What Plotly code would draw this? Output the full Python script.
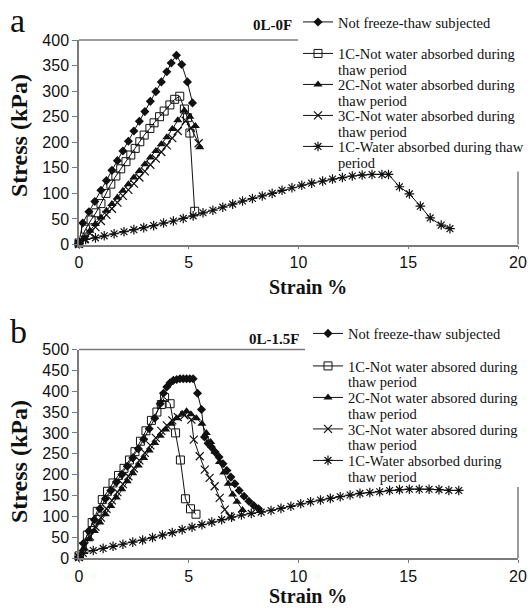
import plotly.graph_objects as go

# ---------------- data : panel a (0L-0F) ----------------
a_nf_x = [0, 0.17, 0.45, 0.72, 1.0, 1.25, 1.5, 1.75, 2.0, 2.25, 2.5, 2.75, 3.0, 3.25, 3.5, 3.75, 4.0, 4.2, 4.44, 4.68, 4.94, 5.17]
a_nf_y = [5, 42, 64, 84, 106, 125, 145, 164, 183, 202, 222, 241, 260, 280, 299, 318, 338, 355, 370, 352, 318, 277]

a_c1_x = [0, 0.3, 0.55, 0.77, 1.0, 1.23, 1.45, 1.68, 1.9, 2.14, 2.36, 2.56, 2.77, 2.97, 3.23, 3.42, 3.67, 3.88, 4.14, 4.36, 4.59, 4.8, 4.94, 5.05, 5.27]
a_c1_y = [3, 30, 48, 62, 80, 100, 118, 134, 148, 162, 175, 188, 201, 214, 227, 238, 250, 261, 273, 284, 290, 265, 248, 218, 65]

a_c2_x = [0, 0.25, 0.5, 0.75, 1.0, 1.25, 1.5, 1.75, 2.0, 2.25, 2.5, 2.75, 3.0, 3.25, 3.5, 3.75, 4.0, 4.25, 4.5, 4.8, 5.05, 5.3, 5.5]
a_c2_y = [2, 13, 27, 40, 53, 66, 79, 92, 105, 118, 131, 144, 157, 170, 183, 196, 210, 226, 243, 262, 250, 232, 190]

a_c3_x = [0, 0.25, 0.5, 0.75, 1.0, 1.25, 1.5, 1.75, 2.0, 2.25, 2.5, 2.75, 3.0, 3.25, 3.5, 3.75, 4.0, 4.25, 4.5, 4.86, 5.1, 5.45]
a_c3_y = [1, 10, 22, 34, 46, 58, 70, 82, 95, 107, 119, 131, 143, 156, 168, 181, 194, 208, 222, 242, 228, 198]

a_w1_x = [0, 0.3, 0.75, 1.15, 1.6, 2.05, 2.5, 2.95, 3.4, 3.85, 4.3, 4.75, 5.2, 5.65, 6.1, 6.55, 7.0, 7.45, 7.9, 8.35,
          8.8, 9.25, 9.7, 10.15, 10.6, 11.1, 11.55, 12.0, 12.45, 12.9, 13.35, 13.8, 14.1, 14.6, 15.05, 15.55, 16.0, 16.5, 16.9]
a_w1_y = [2, 10, 13, 17, 21, 25, 29, 33, 37, 42, 46, 51, 56, 62, 67, 73, 79, 85, 90, 95,
          100, 106, 111, 116, 120, 124, 128, 131, 134, 136, 137, 137, 137, 113, 99, 75, 52, 38, 31]

# ---------------- data : panel b (0L-1.5F) ----------------
b_nf_x = [0, 0.2, 0.45, 0.7, 0.95, 1.2, 1.45, 1.7, 1.95, 2.2, 2.45, 2.7, 2.95, 3.2, 3.45, 3.7, 3.85, 4.0, 4.15, 4.3, 4.45,
          4.6, 4.75, 4.9, 5.05, 5.2, 5.4, 5.58, 5.72, 5.88, 6.03, 6.2, 6.38, 6.56, 6.74, 6.92, 7.1, 7.3, 7.52, 7.74, 7.96, 8.18]
b_nf_y = [3, 35, 65, 92, 118, 142, 162, 182, 200, 220, 240, 262, 285, 310, 335, 370, 395, 410, 420, 426, 428,
          430, 430, 430, 430, 430, 395, 356, 290, 275, 266, 254, 242, 226, 210, 194, 178, 162, 148, 136, 126, 118]

b_c1_x = [0, 0.15, 0.38, 0.6, 0.83, 1.06, 1.3, 1.55, 1.8, 2.05, 2.3, 2.55, 2.8, 3.05, 3.3, 3.55, 3.75, 3.9, 4.15, 4.4, 4.62, 4.85, 5.08, 5.33]
b_c1_y = [5, 27, 55, 85, 112, 140, 160, 180, 198, 215, 235, 255, 280, 305, 330, 350, 368, 385, 370, 300, 235, 142, 118, 105]

b_c2_x = [0, 0.2, 0.45, 0.7, 0.95, 1.2, 1.45, 1.7, 1.95, 2.2, 2.45, 2.7, 2.95, 3.2, 3.45, 3.7, 3.95, 4.2, 4.45, 4.7, 4.9,
          5.1, 5.35, 5.6, 5.8, 6.0, 6.2, 6.4, 6.6, 6.8, 7.0, 7.2, 7.45]
b_c2_y = [2, 22, 45, 65, 85, 105, 125, 145, 165, 184, 203, 222, 240, 258, 276, 293, 308, 322, 335, 346, 352,
          345, 335, 322, 300, 278, 255, 230, 205, 178, 152, 135, 115]

b_c3_x = [0, 0.25, 0.5, 0.75, 1.0, 1.25, 1.5, 1.75, 2.0, 2.25, 2.5, 2.75, 3.0, 3.25, 3.5, 3.75, 4.0, 4.25, 4.5, 4.8,
          5.12, 5.23, 5.5, 5.73, 5.95, 6.18, 6.41, 6.64, 6.86]
b_c3_y = [2, 28, 52, 75, 97, 118, 138, 158, 177, 196, 215, 234, 252, 270, 288, 305, 318, 330, 338, 342,
          332, 284, 244, 212, 192, 172, 144, 116, 100]

b_w1_x = [0, 0.2, 0.65, 1.1, 1.55, 2.0, 2.45, 2.9, 3.35, 3.8, 4.25, 4.7, 5.15, 5.6, 6.05, 6.5, 6.95, 7.4, 7.85, 8.3,
          8.75, 9.2, 9.65, 10.1, 10.55, 11.0, 11.45, 11.9, 12.35, 12.8, 13.25, 13.7, 14.15, 14.6, 15.05, 15.5, 15.95, 16.4, 16.85, 17.3]
b_w1_y = [2, 11, 18, 23, 28, 33, 38, 43, 49, 55, 61, 68, 74, 80, 86, 92, 98, 103, 107, 110,
          114, 119, 124, 130, 135, 139, 143, 147, 151, 155, 157, 159, 162, 164, 165, 165, 165, 164, 162, 162]

# ---------------- labels ----------------
names_a = ["Not freeze-thaw subjected", "1C-Not water absorbed during", "2C-Not water absorbed during",
           "3C-Not water absorbed during", "1C-Water absorbed during thaw"]
second_a = ["", "thaw period", "thaw period", "thaw period", "period"]
names_b = ["Not freeze-thaw subjected", "1C-Not water absored during", "2C-Not water absored during",
           "3C-Not water absored during", "1C-Water absorbed during"]
second_b = ["", "thaw period", "thaw period", "thaw period", "thaw period"]
panel_tags = ["0L-0F", "0L-1.5F"]
panel_letters = ["a", "b"]
x_ticks = [0, 5, 10, 15, 20]

# ---------------- layout geometry (pixels) ----------------
W, H = 530, 608
ML, MR, MT, MB = 79, 12, 40, 50
PW, PH = W - ML - MR, H - MT - MB


def px_x(p):
    return (p - ML) / PW


def px_y(p):
    return (H - MB - p) / PH


a_top, a_bot = 40, 244.5
b_top, b_bot = 349.5, 558

SERIF = "Liberation Serif, Times New Roman, serif"
SANS = "Liberation Sans, Arial, sans-serif"
INK = "#111111"
LEG_FS = 14.5
XT_FS = 20

styles = [
    dict(symbol="diamond", size=7, color=INK, line=dict(width=0, color=INK)),
    dict(symbol="square-open", size=8, color=INK, line=dict(width=1, color=INK)),
    dict(symbol="triangle-up", size=8, color=INK, line=dict(width=0, color=INK)),
    dict(symbol="x-thin-open", size=8, color=INK, line=dict(width=1.2, color=INK)),
    dict(symbol="asterisk-open", size=8, color=INK, line=dict(width=1.2, color=INK)),
]

series_a = [(a_nf_x, a_nf_y), (a_c1_x, a_c1_y), (a_c2_x, a_c2_y), (a_c3_x, a_c3_y), (a_w1_x, a_w1_y)]
series_b = [(b_nf_x, b_nf_y), (b_c1_x, b_c1_y), (b_c2_x, b_c2_y), (b_c3_x, b_c3_y), (b_w1_x, b_w1_y)]

fig = go.Figure()

legend_y_a = [22, 53.5, 84.5, 115.5, 146.5]
legend_y_b = [333.5, 366, 397.5, 429, 460.5]
LINE2 = 16
legend_left = [298, 308]
text_left = [338, 348]

layout_legends = {}
annotations = []
k = 0
for pi, (series, names, seconds, ly) in enumerate([
        (series_a, names_a, second_a, legend_y_a),
        (series_b, names_b, second_b, legend_y_b)]):
    xa = "x" if pi == 0 else "x2"
    ya = "y" if pi == 0 else "y2"
    for si, ((xs, ys), nm) in enumerate(zip(series, names)):
        k += 1
        lname = "legend" if k == 1 else "legend%d" % k
        fig.add_trace(go.Scatter(
            x=xs, y=ys, mode="lines+markers", name=nm,
            line=dict(color=INK, width=1),
            marker=styles[si], xaxis=xa, yaxis=ya,
            cliponaxis=False, legend=lname, showlegend=True))
        layout_legends[lname] = dict(
            x=px_x(legend_left[pi]), y=px_y(ly[si]), xref="paper", yref="paper",
            xanchor="left", yanchor="middle", bgcolor="rgba(0,0,0,0)",
            borderwidth=0, font=dict(family=SERIF, size=LEG_FS, color=INK),
            itemwidth=30)
        if seconds[si]:
            annotations.append(dict(
                text=seconds[si], x=px_x(text_left[pi] - 1), y=px_y(ly[si] + LINE2),
                xref="paper", yref="paper", xanchor="left", yanchor="middle",
                showarrow=False, borderpad=0,
                font=dict(family=SERIF, size=LEG_FS, color=INK)))

# panel letters, tags, axis titles
for pi in range(2):
    bot = a_bot if pi == 0 else b_bot
    annotations.append(dict(text=panel_letters[pi], x=px_x(8), y=px_y([20.5, 331][pi]),
                            xref="paper", yref="paper", xanchor="left", yanchor="middle",
                            showarrow=False, font=dict(family=SERIF, size=34, color=INK)))
    annotations.append(dict(text="<b>%s</b>" % panel_tags[pi], x=px_x([294, 301][pi]),
                            y=px_y([25.5, 339][pi]), xref="paper", yref="paper",
                            xanchor="right", yanchor="middle", showarrow=False,
                            font=dict(family=SERIF, size=15, color=INK)))
    if pi == 0:
        annotations.append(dict(text="<b>Strain %</b>", x=px_x(307.5), y=px_y(bot + 42),
                                xref="paper", yref="paper", xanchor="center", yanchor="middle",
                                showarrow=False, borderpad=0,
                                font=dict(family=SERIF, size=XT_FS, color=INK)))
    else:
        annotations.append(dict(text="<b>Strain %</b>", x=px_x(307.5), y=px_y(H),
                                xref="paper", yref="paper", xanchor="center", yanchor="bottom",
                                showarrow=False, borderpad=0,
                                font=dict(family=SERIF, size=XT_FS, color=INK)))
    annotations.append(dict(text="<b>Stress (kPa)</b>", x=px_x(19),
                            y=px_y([136, 462][pi]), xref="paper", yref="paper",
                            xanchor="center", yanchor="middle", textangle=-90,
                            showarrow=False, font=dict(family=SERIF, size=24, color=INK)))

AX = "#7a7a7a"
xcommon = dict(range=[0, 20], tickvals=x_ticks, showline=True, linecolor=AX, linewidth=1.5,
               ticks="outside", ticklen=3, tickcolor=AX, tickwidth=1, showgrid=False, zeroline=False,
               tickfont=dict(family=SANS, size=16, color=INK), domain=[0, 1])
ycommon = dict(showline=True, linecolor=AX, linewidth=1.5, ticks="outside", ticklen=5,
               tickcolor=AX, tickwidth=1, showgrid=False, zeroline=False, dtick=50,
               tickfont=dict(family=SANS, size=16, color=INK))

shapes = [
    # partial plot frame (legend sits over the top-right corner)
    dict(type="line", xref="x domain", yref="y domain", x0=0, x1=px_x(298), y0=1, y1=1,
         line=dict(color=AX, width=1.5)),
    dict(type="line", xref="x domain", yref="y domain", x0=1, x1=1, y0=0,
         y1=(a_bot - 171.5) / (a_bot - a_top), line=dict(color=AX, width=1.5)),
    dict(type="line", xref="x2 domain", yref="y2 domain", x0=0, x1=px_x(305), y0=1, y1=1,
         line=dict(color=AX, width=1.5)),
    dict(type="line", xref="x2 domain", yref="y2 domain", x0=1, x1=1, y0=0,
         y1=(b_bot - 487) / (b_bot - b_top), line=dict(color=AX, width=1.5)),
]

fig.update_layout(
    width=W, height=H, margin=dict(l=ML, r=MR, t=MT, b=MB, pad=0, autoexpand=False),
    paper_bgcolor="white", plot_bgcolor="white",
    xaxis=dict(**xcommon, anchor="y"),
    yaxis=dict(**ycommon, range=[0, 400], domain=[px_y(a_bot), px_y(a_top)], anchor="x"),
    xaxis2=dict(**xcommon, anchor="y2"),
    yaxis2=dict(**ycommon, range=[0, 500], domain=[px_y(b_bot), px_y(b_top)], anchor="x2"),
    annotations=annotations, shapes=shapes,
    **layout_legends,
)

fig.write_html("out.html")
